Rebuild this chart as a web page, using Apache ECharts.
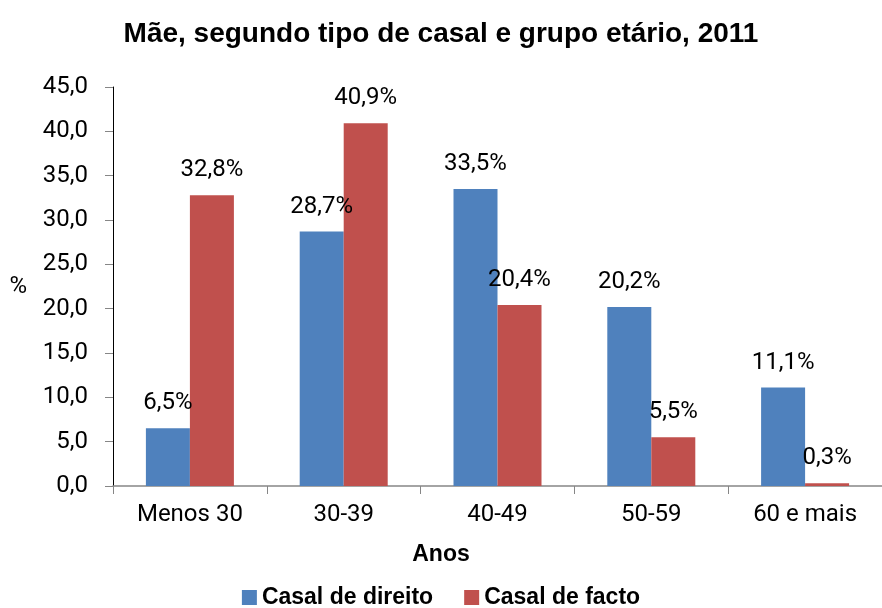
<!DOCTYPE html>
<html>
<head>
<meta charset="utf-8">
<script src="https://cdn.jsdelivr.net/npm/echarts@6/dist/echarts.min.js"></script>
<style>html,body{margin:0;padding:0;background:#fff}#c{width:882px;height:608px}</style>
</head>
<body>
<div id="c"></div>
<script>
const categories = ['Menos 30', '30-39', '40-49', '50-59', '60 e mais'];
const casalDireito = [6.5, 28.7, 33.5, 20.2, 11.1];
const casalFacto = [32.8, 40.9, 20.4, 5.5, 0.3];
const seriesNames = ['Casal de direito', 'Casal de facto'];
const titleText = 'Mãe, segundo tipo de casal e grupo etário, 2011';
const xAxisName = 'Anos';
const yAxisName = '%';

const fmt = v => v.toFixed(1).replace('.', ',');
const boldFont = '"Liberation Sans", sans-serif';
const chart = echarts.init(document.getElementById('c'));
const labelCfg = {
  show: true, position: 'top', distance: 13,
  fontFamily: 'Roboto', fontSize: 24, color: '#000',
  formatter: p => fmt(p.value) + '%'
};
chart.setOption({
  animation: false,
  title: [
    {
      text: titleText, left: 'center', top: 15,
      textStyle: { fontFamily: boldFont, fontWeight: 'bold', fontSize: 28, color: '#000' }
    },
    {
      text: xAxisName, left: 'center', top: 538,
      textStyle: { fontFamily: boldFont, fontWeight: 'bold', fontSize: 23, color: '#000' }
    }
  ],
  legend: {
    bottom: -6, left: 'center', itemWidth: 15, itemHeight: 15, itemGap: 31,
    icon: 'rect',
    textStyle: { fontFamily: boldFont, fontWeight: 'bold', fontSize: 23, color: '#000' },
    data: seriesNames
  },
  grid: { left: 113, right: -6, top: 87, bottom: 122 },
  xAxis: {
    type: 'category', data: categories,
    axisLine: { lineStyle: { color: '#868686', width: 1.5 } },
    axisTick: { show: true, length: 8, lineStyle: { color: '#868686' } },
    axisLabel: { fontFamily: 'Roboto', fontSize: 24, color: '#000', margin: 17 }
  },
  yAxis: {
    type: 'value', min: 0, max: 45, interval: 5,
    name: yAxisName, nameLocation: 'middle', nameGap: 86, nameRotate: 0,
    nameTextStyle: { fontFamily: 'Roboto', fontSize: 24, color: '#000', padding: [6, 0, 0, 0] },
    axisLine: { show: true, lineStyle: { color: '#000' } },
    axisTick: { show: true, length: 8, lineStyle: { color: '#868686' } },
    splitLine: { show: false },
    axisLabel: { fontFamily: 'Roboto', fontSize: 24, color: '#000', margin: 25, formatter: v => fmt(v) }
  },
  series: [
    { name: seriesNames[0], type: 'bar', data: casalDireito, barWidth: 44, barGap: '0%',
      itemStyle: { color: '#4F81BD' }, label: labelCfg },
    { name: seriesNames[1], type: 'bar', data: casalFacto, barWidth: 44, barGap: '0%',
      itemStyle: { color: '#C0504D' }, label: labelCfg }
  ]
});
</script>
</body>
</html>
